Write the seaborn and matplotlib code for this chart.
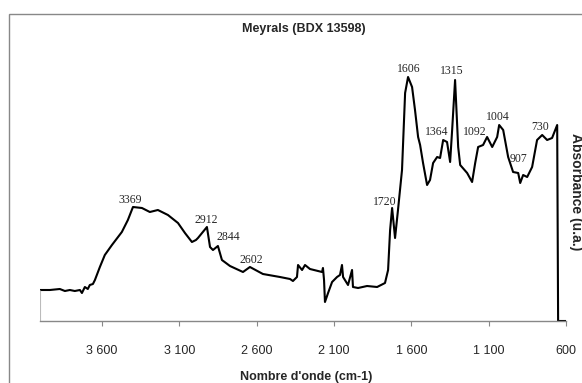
import matplotlib
matplotlib.use("Agg")
import matplotlib.pyplot as plt
from matplotlib.patches import Rectangle
import numpy as np
import pandas as pd
import seaborn as sns

# FTIR spectrum (wavenumber in cm-1, absorbance in arbitrary units)
wavenumber = [
    4000, 3936, 3872, 3839, 3807, 3775, 3742, 3729, 3710, 3691, 3678, 3658, 3645,
    3613, 3581, 3535, 3471, 3432, 3399, 3341, 3290, 3238, 3173, 3108, 3063, 3018,
    2992, 2979, 2921, 2901, 2882, 2850, 2824, 2772, 2688, 2643, 2559, 2449, 2384,
    2365, 2339, 2332, 2306, 2287, 2255, 2177, 2171, 2164, 2158, 2138, 2112, 2080,
    2061, 2048, 2041, 2009, 1983, 1977, 1944, 1886, 1821, 1770, 1750, 1737, 1724,
    1705, 1686, 1660, 1640, 1621, 1595, 1576, 1556, 1543, 1524, 1498, 1479, 1459,
    1433, 1414, 1394, 1369, 1349, 1336, 1317, 1297, 1284, 1239, 1207, 1187, 1168,
    1136, 1110, 1077, 1045, 1032, 1006, 974, 942, 909, 896, 877, 851, 819, 787,
    754, 722, 690, 657, 651, 600,
]
absorbance = [
    31, 31, 32, 30, 31, 30, 31, 28, 34, 32, 36, 37, 41,
    54, 66, 76, 89, 101, 114, 113, 109, 111, 106, 98, 88, 79,
    81, 83, 94, 74, 71, 75, 61, 55, 49, 54, 47, 44, 42,
    40, 44, 56, 51, 56, 52, 49, 53, 41, 19, 28, 39, 44,
    46, 56, 44, 36, 51, 34, 33, 35, 34, 38, 51, 91, 113,
    83, 111, 151, 228, 244, 234, 211, 184, 176, 158, 136, 141, 158,
    164, 163, 181, 179, 159, 191, 241, 174, 156, 148, 139, 158, 174,
    176, 184, 174, 184, 196, 191, 164, 149, 148, 138, 146, 144, 154, 181,
    186, 181, 183, 196, 0, 0,
]

# peak labels and where their text sits
peak_labels = ["3369", "2912", "2844", "2602", "1720", "1606", "1315",
               "1364", "1092", "1004", "907", "730"]
label_x = [3419, 2927, 2785, 2636, 1770, 1614, 1336, 1433, 1187, 1039, 909, 767]
label_y = [121, 101, 84, 61, 119, 252, 250, 189, 189, 204, 162, 194]

xticks = [3600, 3100, 2600, 2100, 1600, 1100, 600]

df = pd.DataFrame({"wavenumber": wavenumber, "absorbance": absorbance})

sns.set_style("white")
plt.rcParams["font.family"] = ["Liberation Sans", "DejaVu Sans"]

W, H = 582, 383
fig = plt.figure(figsize=(W / 100, H / 100), dpi=100)
ax = fig.add_axes([40 / W, (H - 321) / H, 526 / W, 280 / H])

sns.lineplot(data=df, x="wavenumber", y="absorbance", sort=False,
             color="black", linewidth=1.5, ax=ax)
# thin grey line where the spectrum starts
ax.vlines(wavenumber[0], 0, absorbance[0], color="#bbbbbb", linewidth=0.8)

ax.set_xlim(4000, 600)
ax.set_ylim(0, 280)
ax.set_xlabel("")
ax.set_ylabel("")
ax.set_yticks([])
ax.set_xticks(xticks)
ax.set_xticklabels([f"{v:,}".replace(",", " ") for v in xticks], fontsize=9)
ax.tick_params(axis="x", direction="out", length=3.5, width=0.8,
               color="#888888", pad=14, bottom=True)
for side in ["top", "left", "right"]:
    ax.spines[side].set_visible(False)
ax.spines["bottom"].set_color("#888888")
ax.spines["bottom"].set_linewidth(1.0)

for lab, lx, ly in zip(peak_labels, label_x, label_y):
    ax.text(lx, ly, lab, ha="center", va="center", fontsize=8.5,
            family=["Liberation Serif", "DejaVu Serif"])

fig.text(304 / W, (H - 29) / H, "Meyrals (BDX 13598)", ha="center", va="center",
         fontsize=9, fontweight="bold")
fig.text(306 / W, (H - 377) / H, "Nombre d'onde (cm-1)", ha="center", va="center",
         fontsize=9, fontweight="bold")
fig.text(576 / W, (H - 192) / H, "Absorbance (u.a.)", ha="center", va="center",
         rotation=-90, fontsize=10, fontweight="bold")

# outer chart frame, cut off at right and bottom like the reference
fig.add_artist(Rectangle((8.5 / W, -0.05), 1.0, (H - 14.3) / H + 0.05,
                         transform=fig.transFigure, fill=False,
                         edgecolor="#888888", linewidth=1.0))

fig.savefig("out.png", dpi=100)
